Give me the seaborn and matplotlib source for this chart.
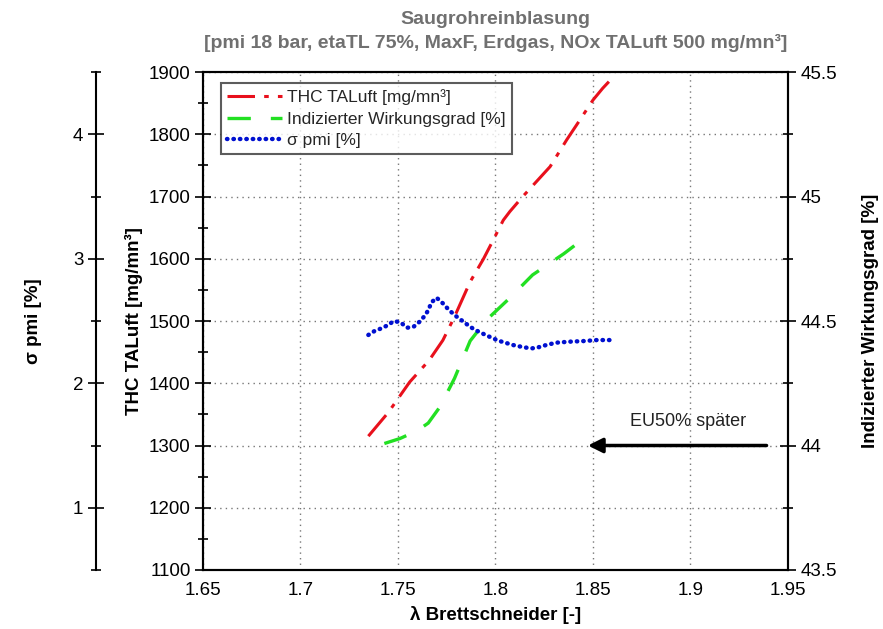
import numpy as np
import pandas as pd
import matplotlib
matplotlib.use('Agg')
import matplotlib.pyplot as plt
from matplotlib.ticker import MultipleLocator
import seaborn as sns

# =====================================================================
# Daten
# =====================================================================
lam_thc = [1.7348, 1.745, 1.756, 1.766, 1.773, 1.779, 1.787, 1.7937, 1.798,
           1.804, 1.8074, 1.814, 1.821, 1.828, 1.8365, 1.8416, 1.850, 1.855, 1.8604]
thc = [1315, 1353, 1402, 1437, 1469, 1507, 1563, 1599, 1625,
       1662, 1676, 1700, 1724, 1748, 1791, 1815, 1855, 1874, 1892]

lam_eta = [1.743, 1.751, 1.760, 1.7655, 1.7715, 1.779, 1.787, 1.7955, 1.807,
           1.819, 1.835, 1.8476]
eta = [44.008, 44.028, 44.06, 44.09, 44.155, 44.27, 44.42, 44.505, 44.59,
       44.685, 44.77, 44.845]

lam_sig = [1.7348, 1.738, 1.7415, 1.745, 1.7478, 1.7513, 1.7547, 1.758, 1.7615,
           1.764, 1.7658, 1.767, 1.7698, 1.773, 1.7758, 1.779, 1.7824, 1.7858,
           1.789, 1.7925, 1.796, 1.8015, 1.809, 1.8145, 1.8186, 1.822, 1.826,
           1.8311, 1.838, 1.8453, 1.852, 1.859]
sig = [2.388, 2.42, 2.441, 2.468, 2.50, 2.489, 2.446, 2.454, 2.50,
       2.548, 2.594, 2.647, 2.687, 2.642, 2.594, 2.548, 2.508, 2.468,
       2.433, 2.406, 2.38, 2.342, 2.307, 2.289, 2.28, 2.289, 2.307,
       2.326, 2.334, 2.339, 2.347, 2.347]

x_ticks = [1.65, 1.7, 1.75, 1.8, 1.85, 1.9, 1.95]
x_tick_labels = ['1.65', '1.7', '1.75', '1.8', '1.85', '1.9', '1.95']

# =====================================================================
# Stil
# =====================================================================
sns.set_theme(style='white')
plt.rcParams['font.family'] = ['Liberation Sans', 'DejaVu Sans']
plt.rcParams['axes.unicode_minus'] = False

fig = plt.figure(figsize=(8.83, 6.29), dpi=100)
ax = fig.add_axes([0.2299, 0.0938, 0.6625, 0.7917])
ax_r = ax.twinx()
ax_s = ax.twinx()

df_thc = pd.DataFrame({'lam': lam_thc, 'val': thc})
df_eta = pd.DataFrame({'lam': lam_eta, 'val': eta})
df_sig = pd.DataFrame({'lam': lam_sig, 'val': sig})

sns.lineplot(data=df_thc, x='lam', y='val', ax=ax, color='#e8101c', lw=2.2,
             label='THC TALuft [mg/mn³]', legend=False, sort=False)
ax.lines[-1].set_dashes([9, 3, 1.5, 3])

sns.lineplot(data=df_eta, x='lam', y='val', ax=ax_r, color='#22e022', lw=2.4,
             label='Indizierter Wirkungsgrad [%]', legend=False, sort=False)
ax_r.lines[-1].set_dashes([7, 6])

sns.lineplot(data=df_sig, x='lam', y='val', ax=ax_s, color='#0010d0', lw=3.2,
             label='σ pmi [%]', legend=False, sort=False)
ax_s.lines[-1].set_dashes([0.1, 1.35])
ax_s.lines[-1].set_dash_capstyle('round')

# =====================================================================
# Achsen
# =====================================================================
tick_kw = dict(direction='inout', colors='black', labelsize=13.5, width=1.2)
lab_kw = dict(fontsize=13.5, fontweight='bold', color='black')

ax.set_xlim(1.65, 1.95)
ax.set_ylim(1100, 1900)
ax.set_xticks(x_ticks)
ax.set_xticklabels(x_tick_labels)
ax.xaxis.set_minor_locator(MultipleLocator(0.025))
ax.yaxis.set_major_locator(MultipleLocator(100))
ax.yaxis.set_minor_locator(MultipleLocator(50))
ax.tick_params(axis='both', which='major', length=11, **tick_kw)
ax.tick_params(axis='both', which='minor', length=7, direction='inout', width=1.2, colors='black')
ax.tick_params(axis='x', pad=3)
ax.set_xlabel('λ Brettschneider [-]', labelpad=5, **lab_kw)
ax.set_ylabel('THC TALuft [mg/mn³]', labelpad=4, **lab_kw)
ax.grid(True, which='major', ls=(0, (1, 3)), color='#777777', lw=1.0)

ax_r.set_ylim(43.5, 45.5)
ax_r.yaxis.set_major_locator(MultipleLocator(0.5))
ax_r.yaxis.set_minor_locator(MultipleLocator(0.25))
ax_r.set_yticks([43.5, 44, 44.5, 45, 45.5])
ax_r.set_yticklabels(['43.5', '44', '44.5', '45', '45.5'])
ax_r.tick_params(axis='y', which='major', length=11, **tick_kw)
ax_r.tick_params(axis='y', which='minor', length=7, direction='inout', width=1.2, colors='black')
ax_r.set_ylabel('Indizierter Wirkungsgrad [%]', labelpad=18, **lab_kw)
ax_r.grid(False)

ax_s.set_ylim(0.5, 4.5)
ax_s.spines['left'].set_position(('axes', -0.183))
ax_s.spines['left'].set_visible(True)
for s in ['right', 'top', 'bottom']:
    ax_s.spines[s].set_visible(False)
ax_s.yaxis.set_ticks_position('left')
ax_s.yaxis.set_label_position('left')
ax_s.set_yticks([1, 2, 3, 4])
ax_s.set_yticklabels(['1', '2', '3', '4'])
ax_s.yaxis.set_minor_locator(MultipleLocator(0.5))
ax_s.tick_params(axis='y', which='major', length=11, **tick_kw)
ax_s.tick_params(axis='y', which='minor', length=7, direction='inout', width=1.2, colors='black')
ax_s.set_ylabel('σ pmi [%]', labelpad=22, **lab_kw)
ax_s.grid(False)

for a in [ax, ax_r, ax_s]:
    for s in a.spines.values():
        s.set_color('black')
        s.set_linewidth(1.5)

# =====================================================================
# Titel, Legende, Pfeil
# =====================================================================
ax.set_title('Saugrohreinblasung\n[pmi 18 bar, etaTL 75%, MaxF, Erdgas, NOx TALuft 500 mg/mn³]',
             fontsize=14, fontweight='bold', color='#707070', pad=17, linespacing=1.45)

handles = ax.lines[:1] + ax_r.lines[:1] + ax_s.lines[:1]
labels = [h.get_label() for h in handles]
leg = ax_s.legend(handles, labels, loc='upper left', bbox_to_anchor=(0.03, 0.977),
                  fontsize=12.5, frameon=True, fancybox=False, handlelength=3.2,
                  handletextpad=0.3, borderpad=0.35, labelspacing=0.35, borderaxespad=0)
leg.get_frame().set_edgecolor('#333333')
leg.get_frame().set_linewidth(1.5)

ax.annotate('', xy=(1.8474, 1300), xytext=(1.939, 1300),
            arrowprops=dict(arrowstyle='-|>', lw=2.5, color='black', mutation_scale=22,
                            shrinkA=0, shrinkB=0))
ax.text(1.899, 1338, 'EU50% später', ha='center', va='center', fontsize=13, color='#222222')

plt.savefig('out.png', dpi=100)
